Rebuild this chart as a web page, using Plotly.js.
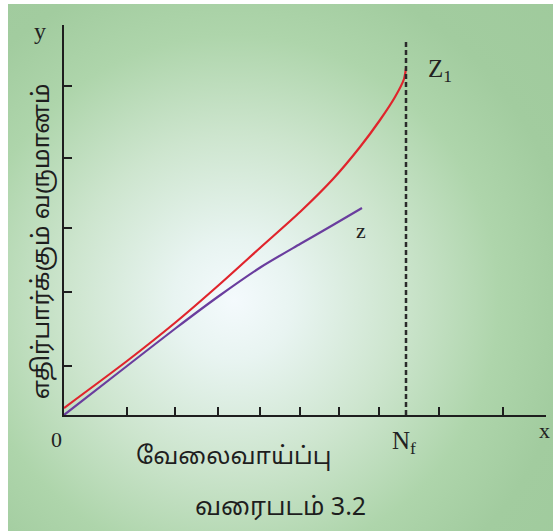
<!DOCTYPE html>
<html>
<head>
<meta charset="utf-8">
<script src="https://cdn.plot.ly/plotly-3.0.1.min.js"></script>
<style>
  html, body { margin: 0; padding: 0; background: #ffffff; }
  #wrap { position: relative; width: 553px; height: 531px; overflow: hidden; background: #ffffff; }
  #panel { position: absolute; left: 8px; top: 4px; width: 545px; height: 527px;
    background: radial-gradient(circle at 226px 296px, #f4fafd 0px, #e8f4f1 60px, #cde5ce 165px, #aed5ab 265px, #a2cc9f 340px, #9fca9c 460px); }
  #chart { position: absolute; left: 0; top: 0; width: 553px; height: 531px; }
</style>
</head>
<body>
<div id="wrap"><div id="panel"></div><div id="chart"></div></div>
<script>
// Curve Z1 (expected revenue, red)
const z1X = [0, 6.3, 11.2, 15.6, 19.7, 23.6, 26.9, 29.6, 31.6, 33.1, 34.0, 34.2];
const z1Y = [0.7, 5.4, 9.3, 13.1, 16.8, 20.3, 23.6, 26.8, 29.5, 31.8, 33.6, 34.7];
// Curve z (purple)
const zX = [0, 6.3, 11.2, 15.5, 19.7, 23.6, 26.9, 29.8];
const zY = [0, 4.9, 8.7, 11.9, 14.8, 17.1, 19.0, 20.7];
// Full employment level
const nfX = 34.2;
const nfTop = 37.3;
// Tick positions (unlabelled)
const xTicks = [6.3, 11.1, 15.4, 19.6, 23.6, 27.5, 31.5, 37.5, 43.9];
const yTicks = [4.9, 12.3, 18.7, 25.7, 32.9];
// Texts
const yTitle = "எதிர்பார்க்கும் வருமானம்";
const xTitle = "வேலைவாய்ப்பு";
const caption = "வரைபடம் 3.2";

const serif = "Liberation Serif, Times New Roman, serif";
const tamil = "Noto Sans Tamil, Noto Sans, Lohit Tamil, sans-serif";

const traces = [
  { x: z1X, y: z1Y, mode: "lines", line: { color: "#e0242c", width: 2.2, shape: "spline", smoothing: 0.7 }, hoverinfo: "skip" },
  { x: zX, y: zY, mode: "lines", line: { color: "#6a3d9e", width: 2.2, shape: "spline", smoothing: 0.7 }, hoverinfo: "skip" },
  { x: [nfX, nfX], y: [0, nfTop], mode: "lines", line: { color: "#2b2b2b", width: 2.5, dash: "5px,3px" }, hoverinfo: "skip" }
];

const layout = {
  width: 553, height: 531,
  margin: { l: 64, r: 7, t: 25, b: 116 },
  paper_bgcolor: "rgba(0,0,0,0)",
  plot_bgcolor: "rgba(0,0,0,0)",
  showlegend: false,
  xaxis: {
    range: [0, 48.2], showgrid: false, zeroline: false,
    showline: true, linecolor: "#1e1e1e", linewidth: 2.2,
    ticks: "inside", tickvals: xTicks, ticklen: 8, tickwidth: 1.8, tickcolor: "#1e1e1e",
    showticklabels: false, fixedrange: true
  },
  yaxis: {
    range: [0, 39], showgrid: false, zeroline: false,
    showline: true, linecolor: "#1e1e1e", linewidth: 2.2,
    ticks: "inside", tickvals: yTicks, ticklen: 8, tickwidth: 1.8, tickcolor: "#1e1e1e",
    showticklabels: false, fixedrange: true
  },
  annotations: [
    { text: "y", xref: "paper", yref: "paper", x: -0.05, y: 1.0, xanchor: "center", yanchor: "middle", yshift: -6, showarrow: false, font: { family: serif, size: 24, color: "#222" } },
    { text: "0", xref: "x", yref: "y", x: 0, y: 0, xanchor: "center", yanchor: "top", xshift: -8, yshift: -10, showarrow: false, font: { family: serif, size: 22, color: "#222" } },
    { text: "x", xref: "paper", yref: "y", x: 1.0, y: 0, xanchor: "center", yanchor: "top", xshift: -2, yshift: -1, showarrow: false, font: { family: serif, size: 22, color: "#222" } },
    { text: "N<sub>f</sub>", xref: "x", yref: "y", x: nfX, y: 0, xanchor: "center", yanchor: "top", xshift: -2, yshift: -10, showarrow: false, font: { family: serif, size: 25, color: "#222" } },
    { text: "Z<sub>1</sub>", xref: "x", yref: "y", x: nfX, y: z1Y[z1Y.length - 1], xanchor: "left", yanchor: "middle", xshift: 20, yshift: -2, showarrow: false, font: { family: serif, size: 25, color: "#222" } },
    { text: "z", xref: "x", yref: "y", x: zX[zX.length - 1], y: zY[zY.length - 1], xanchor: "center", yanchor: "top", xshift: -1, yshift: -8, showarrow: false, font: { family: serif, size: 22, color: "#222" } },
    { text: yTitle, xref: "paper", yref: "paper", x: -0.042, y: 0.445, xanchor: "center", yanchor: "middle", textangle: -90, showarrow: false, font: { family: tamil, size: 24, color: "#1e1e1e" } },
    { text: xTitle, xref: "paper", yref: "paper", x: 0.352, y: -0.11, xanchor: "center", yanchor: "middle", showarrow: false, font: { family: tamil, size: 24, color: "#1e1e1e" } },
    { text: caption, xref: "paper", yref: "paper", x: 0.449, y: -0.24, xanchor: "center", yanchor: "middle", showarrow: false, font: { family: tamil, size: 25, color: "#1e1e1e" } }
  ]
};

Plotly.newPlot("chart", traces, layout, { displayModeBar: false, staticPlot: true });
</script>
</body>
</html>
